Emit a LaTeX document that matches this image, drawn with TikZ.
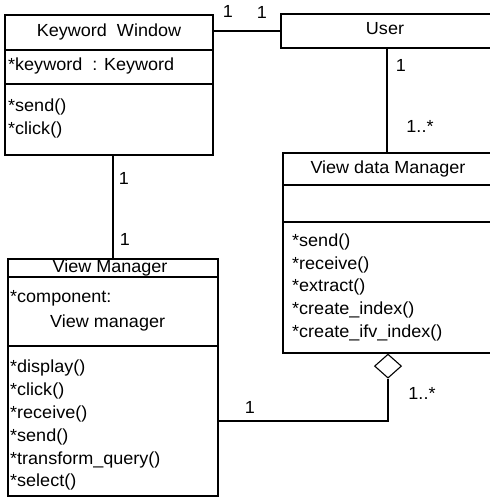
\documentclass[tikz,border=0pt]{standalone}
\usepackage{fontspec}
\setmainfont{Liberation Sans}[FakeStretch=1.03]
\usetikzlibrary{calc, positioning, shapes.geometric}

\begin{document}
\begin{tikzpicture} [x=1pt, y=-1pt,
		% define styles
		classbox/.style={
			% The shape:
			rectangle,
			% The border:
			draw=black,
			line width=1.1pt,
			inner sep=0pt
		},
		title/.style={
			% Font
			font=\fontsize{17.5}{20}\selectfont,
			inner sep=0pt,
			text height=12.5pt,
			text depth=3.5pt
		},
		member/.style={
			title,
			anchor=west
		},
		mult/.style={
			title
		},
		link/.style={
			-,
			% Thickness
			line width=1.1pt,
			black
		},
		aggr/.style={
			diamond,
			draw=black,
			line width=1.1pt,
			fill=white,
			inner sep=0pt,
			minimum width=27pt,
			minimum height=24pt,
			anchor=north
		}]
		% end of style definition
		\useasboundingbox (0,0) rectangle (490,504);

		% draw class boxes
		\node (kwin) [classbox, minimum width=208pt, minimum height=140pt] at (109,85) {};
		\node (user) [classbox, minimum width=212pt, minimum height=34pt] at (387,31) {};
		\node (vdm) [classbox, minimum width=210pt, minimum height=200pt] at (388,253) {};
		\node (vm) [classbox, minimum width=210pt, minimum height=237pt] at (113,377.5) {};

		% compartments
		\draw [link] (kwin.west |- 0,50) -- (kwin.east |- 0,50);
		\draw [link] (kwin.west |- 0,84) -- (kwin.east |- 0,84);
		\draw [link] (vdm.west |- 0,185) -- (vdm.east |- 0,185);
		\draw [link] (vdm.west |- 0,222) -- (vdm.east |- 0,222);
		\draw [link] (vm.west |- 0,277) -- (vm.east |- 0,277);
		\draw [link] (vm.west |- 0,346) -- (vm.east |- 0,346);

		% class texts
		\node (kwinName) [title] at (109,32) {Keyword\ \ Window};
		\node (kwinAttr) [member] at (8,66) {*keyword\ \ : Keyword};
		\node (kwinSend) [member] at (8,107) {*send()};
		\node (kwinClick) [member, below=7pt of kwinSend.south west, anchor=north west] {*click()};

		\node (userName) [title] at (385,30) {User};

		\node (vdmName) [title] at (388,169) {View data Manager};
		\node (vdmSend) [member] at (292,242) {*send()};
		\node (vdmReceive) [member] at (292,265) {*receive()};
		\node (vdmExtract) [member] at (292,287) {*extract()};
		\node (vdmIndex) [member] at (292,310) {*create\_index()};
		\node (vdmIfv) [member] at (292,333) {*create\_ifv\_index()};

		\node (vmName) [title] at (110,268) {View Manager};
		\node (vmAttr) [member] at (10,298) {*component:};
		\node (vmAttrType) [member] at (50,323) {View manager};
		\node (vmDisplay) [member] at (10,368) {*display()};
		\node (vmClick) [member] at (10,391) {*click()};
		\node (vmReceive) [member] at (10,414) {*receive()};
		\node (vmSend) [member] at (10,437) {*send()};
		\node (vmTransform) [member] at (10,460) {*transform\_query()};
		\node (vmSelect) [member] at (10,482) {*select()};

		% connect classes
		\draw [link] (kwin.east |- user.west) -- (user.west);
		\draw [link] (user.south) -- (user.south |- vdm.north);
		\draw [link] (vm.north |- kwin.south) -- (vm.north);
		\node (agg) [aggr] at (vdm.south) {};
		\draw [link] (agg.south) |- ([yshift=-43.5pt]vm.east);

		% multiplicities
		\node (mKwinUser) [mult] at (228,13) {1};
		\node (mUserKwin) [mult] at (262,14) {1};
		\node (mUserVdm) [mult] at (401,67) {1};
		\node (mVdmUser) [mult] at (420,128) {1..*};
		\node (mKwinVm) [mult] at (124,180) {1};
		\node (mVmKwin) [mult] at (125,241) {1};
		\node (mVmVdm) [mult] at (250,409) {1};
		\node (mVdmVm) [mult] at (422,395) {1..*};
	\end{tikzpicture}
\end{document}
